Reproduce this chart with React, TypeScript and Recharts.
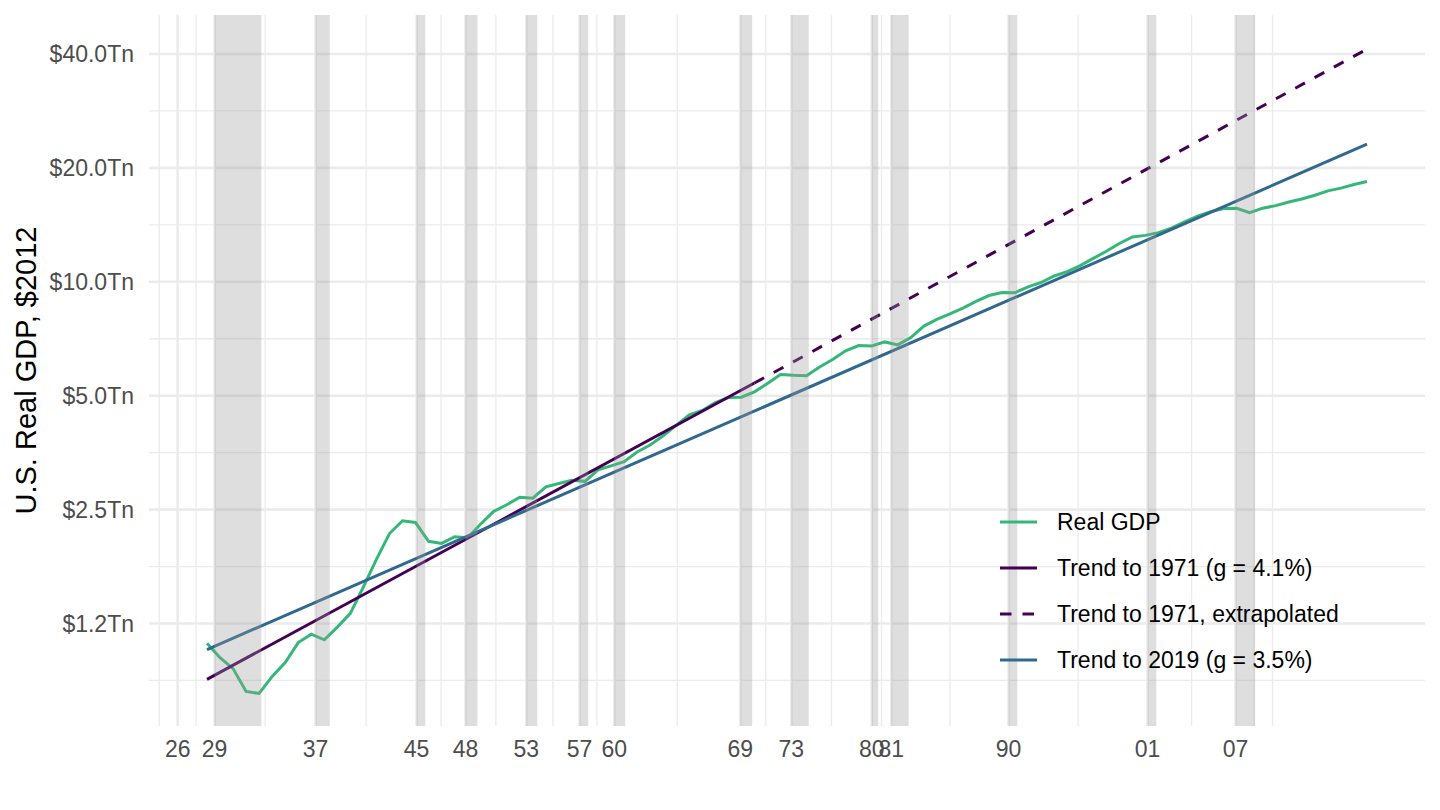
import React from 'react';
import { LineChart, Line, XAxis, YAxis, ReferenceArea, ReferenceLine, Legend } from 'recharts';

const FONT = '"Liberation Sans", Arial, Helvetica, sans-serif';
const GREEN = '#35B779';
const PURPLE = '#440154';
const BLUE = '#31688E';
const GRID = '#EBEBEB';

// real GDP, trillions of 2012 dollars, one value per year from 1929
const firstYear = 1929;
const realGdp = [
  1.109, 1.015, 0.95, 0.827, 0.817, 0.906, 0.986, 1.113, 1.171, 1.132,
  1.223, 1.33, 1.562, 1.846, 2.161, 2.336, 2.311, 2.062, 2.035, 2.119,
  2.107, 2.29, 2.474, 2.575, 2.696, 2.68, 2.872, 2.931, 2.99, 2.969,
  3.183, 3.262, 3.346, 3.551, 3.705, 3.919, 4.173, 4.449, 4.571, 4.796,
  4.945, 4.955, 5.118, 5.387, 5.69, 5.661, 5.649, 5.953, 6.228, 6.573,
  6.781, 6.764, 6.935, 6.81, 7.122, 7.638, 7.956, 8.231, 8.516, 8.872,
  9.198, 9.372, 9.361, 9.691, 9.958, 10.358, 10.637, 11.038, 11.529, 12.046,
  12.623, 13.138, 13.263, 13.488, 13.866, 14.4, 14.901, 15.316, 15.624, 15.643,
  15.236, 15.649, 15.892, 16.254, 16.553, 16.932, 17.39, 17.68, 18.079, 18.4,
];

// trend lines: end points only, straight on the log scale
const trend1971 = [
  { year: 1929, value: 0.89 },
  { year: 1971, value: 5.4 },
];
const trend1971Extrapolated = [
  { year: 1971, value: 5.4 },
  { year: 2018, value: 41.2 },
];
const trend2019 = [
  { year: 1929, value: 1.067 },
  { year: 2018, value: 23.1 },
];

// NBER recession peaks (axis breaks) and shaded spans
const recessionTicks = [
  1926.75, 1929.583, 1937.333, 1945.083, 1948.833, 1953.5, 1957.583, 1960.25,
  1969.917, 1973.833, 1980.0, 1981.5, 1990.5, 2001.167, 2007.917,
];
const recessionTickLabels = ['26', '29', '37', '45', '48', '53', '57', '60', '69', '73', '80', '81', '90', '01', '07'];
const recessionStarts = [
  1929.583, 1937.333, 1945.083, 1948.833, 1953.5, 1957.583, 1960.25,
  1969.917, 1973.833, 1980.0, 1981.5, 1990.5, 2001.167, 2007.917,
];
const recessionEnds = [
  1933.167, 1938.417, 1945.75, 1949.75, 1954.333, 1958.25, 1961.083,
  1970.833, 1975.167, 1980.5, 1982.833, 1991.167, 2001.833, 2009.417,
];

const yTicks = [1.25, 2.5, 5, 10, 20, 40];
const yTickLabels = ['$1.2Tn', '$2.5Tn', '$5.0Tn', '$10.0Tn', '$20.0Tn', '$40.0Tn'];

const legendItems = [
  { label: 'Real GDP', color: GREEN, dash: undefined as string | undefined },
  { label: 'Trend to 1971 (g = 4.1%)', color: PURPLE, dash: undefined },
  { label: 'Trend to 1971, extrapolated', color: PURPLE, dash: '11.5 11' },
  { label: 'Trend to 2019 (g = 3.5%)', color: BLUE, dash: undefined },
];

const pick = (pts: { year: number; value: number }[], year: number) => {
  const p = pts.find((d) => d.year === year);
  return p ? p.value : null;
};

const table = realGdp.map((gdp, i) => {
  const year = firstYear + i;
  return {
    year,
    gdp,
    t71: pick(trend1971, year),
    t71x: pick(trend1971Extrapolated, year),
    t19: pick(trend2019, year),
  };
});

// minor grid like ggplot: midpoints between breaks, one step extended each side
const xStep = recessionTicks[1] - recessionTicks[0];
const xExt = [recessionTicks[0] - xStep, ...recessionTicks, recessionTicks[recessionTicks.length - 1] + xStep];
const xMinor = [
  ...xExt.slice(1).map((b, i) => (b + xExt[i]) / 2),
  xExt[xExt.length - 1],
];
const yExt = [yTicks[0] / 2, ...yTicks];
const yMinor = yExt.slice(1).map((b, i) => Math.sqrt(b * yExt[i]));

const X_DOMAIN = [1924.55, 2022.45];
const Y_DOMAIN = [0.67, 50.7];

function LegendBox() {
  return (
    <div style={{ fontFamily: FONT }}>
      {legendItems.map((item) => (
        <div key={item.label} style={{ display: 'flex', alignItems: 'center', height: 46 }}>
          <svg width={37} height={6}>
            <line x1={0} x2={37} y1={3} y2={3} stroke={item.color} strokeWidth={3} strokeDasharray={item.dash} />
          </svg>
          <span style={{ marginLeft: 20, fontSize: 23, color: '#000', lineHeight: '46px' }}>{item.label}</span>
        </div>
      ))}
    </div>
  );
}

const YTitle = (props: any) => {
  const vb = props.viewBox || { x: 0, y: 15, width: 149, height: 711 };
  const cx = vb.x + 36;
  const cy = vb.y + vb.height / 2;
  return (
    <text
      x={cx}
      y={cy}
      transform={`rotate(-90 ${cx} ${cy})`}
      textAnchor='middle'
      fontSize={29}
      fontFamily={FONT}
      fill='#000'
    >
      U.S. Real GDP, $2012
    </text>
  );
};

export default function App() {
  return (
    <div style={{ position: 'absolute', left: 0, top: 0, width: 1440, height: 810, background: '#fff', fontFamily: FONT }}>
      <LineChart width={1440} height={810} data={table} margin={{ top: 15, right: 15, bottom: 0, left: 0 }}>
        {yMinor.map((v) => (
          <ReferenceLine key={'ym' + v} y={v} stroke={GRID} strokeWidth={1.3} />
        ))}
        {xMinor.map((v) => (
          <ReferenceLine key={'xm' + v} x={v} stroke={GRID} strokeWidth={1.3} />
        ))}
        {yTicks.map((v) => (
          <ReferenceLine key={'yM' + v} y={v} stroke={GRID} strokeWidth={2.6} />
        ))}
        {recessionTicks.map((v) => (
          <ReferenceLine key={'xM' + v} x={v} stroke={GRID} strokeWidth={2.6} />
        ))}
        <XAxis
          type='number'
          dataKey='year'
          domain={X_DOMAIN}
          allowDataOverflow
          ticks={recessionTicks}
          interval={0}
          tickFormatter={(v: number) => recessionTickLabels[recessionTicks.indexOf(v)] ?? ''}
          axisLine={false}
          tickLine={false}
          tickMargin={9}
          height={84}
          tick={{ fill: '#4D4D4D', fontSize: 23, fontFamily: FONT }}
        />
        <YAxis
          scale='log'
          domain={Y_DOMAIN}
          allowDataOverflow
          ticks={yTicks}
          interval={0}
          tickFormatter={(v: number) => yTickLabels[yTicks.indexOf(v)] ?? ''}
          axisLine={false}
          tickLine={false}
          tickMargin={9}
          width={149}
          tick={{ fill: '#4D4D4D', fontSize: 23, fontFamily: FONT }}
          label={{ content: YTitle }}
        />
        <Line dataKey='gdp' type='linear' stroke={GREEN} strokeWidth={3} dot={false} isAnimationActive={false} />
        <Line dataKey='t71' type='linear' stroke={PURPLE} strokeWidth={3} dot={false} connectNulls isAnimationActive={false} />
        <Line
          dataKey='t71x'
          type='linear'
          stroke={PURPLE}
          strokeWidth={3}
          strokeDasharray='11 11'
          dot={false}
          connectNulls
          isAnimationActive={false}
        />
        <Line dataKey='t19' type='linear' stroke={BLUE} strokeWidth={3} dot={false} connectNulls isAnimationActive={false} />
        {recessionStarts.map((s, i) => (
          <ReferenceArea
            key={'r' + s}
            x1={s}
            x2={recessionEnds[i]}
            fill='#999999'
            fillOpacity={0.32}
            stroke='none'
            zIndex={450}
          />
        ))}
        <Legend
          layout='horizontal'
          verticalAlign='middle'
          align='center'
          content={() => <LegendBox />}
          wrapperStyle={{ position: 'absolute', left: 1000, top: 499, width: 420, height: 184 }}
        />
      </LineChart>
    </div>
  );
}
